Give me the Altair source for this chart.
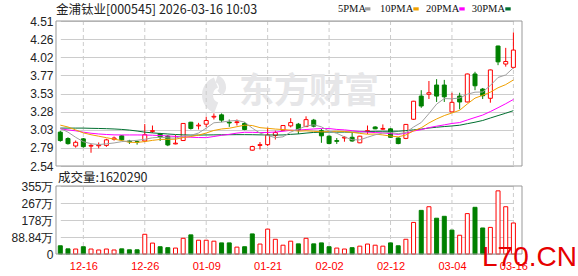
import json
import altair as alt
import pandas as pd

# ---------------- data ----------------
dates = ["12-11", "12-12", "12-15", "12-16", "12-17", "12-18", "12-19", "12-22", "12-23", "12-24",
         "12-25", "12-26", "12-29", "12-30", "12-31", "01-05", "01-06", "01-07", "01-08", "01-09",
         "01-12", "01-13", "01-14", "01-15", "01-16", "01-19", "01-20", "01-21", "01-22", "01-23",
         "01-26", "01-27", "01-28", "01-29", "01-30", "02-02", "02-03", "02-04", "02-05", "02-06",
         "02-09", "02-10", "02-11", "02-12", "02-13", "02-24", "02-25", "02-26", "02-27", "03-02",
         "03-03", "03-04", "03-05", "03-06", "03-09", "03-10", "03-11", "03-12", "03-13", "03-16"]

opens = [3.00, 2.913, 2.812, 2.909, 2.81, 2.815, 2.82, 2.904, 2.95, 2.88,
         2.87, 2.88, 3.01, 2.98, 2.945, 2.84, 2.886, 3.135, 3.085, 3.108,
         3.205, 3.235, 3.135, 3.13, 3.118, 2.755, 2.82, 2.83, 2.955, 3.026,
         3.085, 3.108, 3.075, 3.163, 3.02, 2.945, 2.885, 2.92, 2.93, 2.855,
         3.01, 3.07, 3.04, 3.045, 2.92, 2.915, 3.175, 3.49, 3.515, 3.64,
         3.64, 3.275, 3.49, 3.41, 3.79, 3.585, 3.46, 4.17, 3.925, 3.88]
highs = [3.02, 2.93, 2.886, 2.92, 2.84, 2.86, 2.91, 2.94, 2.96, 2.895,
         2.885, 3.11, 3.09, 2.99, 2.96, 2.96, 3.12, 3.14, 3.126, 3.21,
         3.254, 3.254, 3.172, 3.172, 3.135, 2.815, 2.865, 3.06, 3.02, 3.095,
         3.19, 3.125, 3.215, 3.18, 3.045, 2.955, 2.92, 2.945, 3.00, 2.95,
         3.09, 3.08, 3.105, 3.055, 2.93, 3.11, 3.425, 3.57, 3.695, 3.72,
         3.71, 3.535, 3.535, 3.795, 3.82, 3.60, 3.85, 4.175, 4.145, 4.355]
lows = [2.87, 2.83, 2.79, 2.79, 2.72, 2.78, 2.80, 2.885, 2.88, 2.84,
        2.83, 2.865, 2.99, 2.88, 2.81, 2.835, 2.88, 3.035, 3.036, 3.07,
        3.172, 3.135, 3.071, 3.09, 3.026, 2.75, 2.765, 2.81, 2.90, 3.02,
        3.065, 2.975, 3.07, 3.065, 2.855, 2.835, 2.84, 2.87, 2.87, 2.85,
        2.975, 3.04, 3.03, 2.925, 2.835, 2.905, 3.165, 3.33, 3.45, 3.41,
        3.41, 3.27, 3.31, 3.405, 3.57, 3.45, 3.40, 3.91, 3.89, 3.865]
closes = [2.886, 2.844, 2.862, 2.803, 2.82, 2.825, 2.895, 2.92, 2.895, 2.87,
          2.865, 2.965, 3.02, 2.935, 2.826, 2.85, 3.118, 3.05, 3.095, 3.158,
          3.215, 3.163, 3.125, 3.14, 3.036, 2.805, 2.83, 2.96, 2.995, 3.09,
          3.13, 3.03, 3.17, 3.081, 2.95, 2.845, 2.875, 2.93, 2.88, 2.945,
          3.02, 3.045, 3.05, 2.93, 2.845, 3.105, 3.42, 3.355, 3.535, 3.49,
          3.48, 3.405, 3.41, 3.79, 3.63, 3.495, 3.845, 3.955, 3.96, 4.115]

# volume in 万 (10k shares)
volumes = [43, 27, 26, 38, 26, 21, 26, 21, 27, 22,
           22, 103, 57, 38, 33, 31, 82, 100, 72, 72,
           67, 58, 58, 36, 38, 105, 52, 130, 77, 46,
           67, 53, 82, 53, 58, 38, 31, 26, 33, 41,
           52, 46, 41, 58, 43, 77, 165, 228, 247, 187,
           197, 125, 98, 211, 244, 136, 139, 330, 247, 162.029]
vol_dir = ["down", "down", "up", "down", "up", "up", "up", "up", "down", "down",
           "down", "up", "up", "down", "down", "up", "up", "down", "up", "up",
           "up", "down", "down", "up", "down", "down", "up", "up", "up", "up",
           "up", "down", "up", "down", "down", "down", "up", "up", "down", "up",
           "up", "up", "up", "down", "down", "up", "up", "down", "up", "down",
           "down", "down", "up", "up", "down", "down", "up", "up", "up", "up"]

ma5 = [3.05, 3.00, 2.93, 2.87, 2.843, 2.831, 2.841, 2.853, 2.871, 2.881,
       2.889, 2.903, 2.923, 2.931, 2.922, 2.919, 2.950, 2.956, 2.988, 3.054,
       3.127, 3.136, 3.151, 3.160, 3.136, 3.054, 2.987, 2.954, 2.925, 2.936,
       3.001, 3.041, 3.083, 3.100, 3.072, 3.015, 2.984, 2.936, 2.896, 2.895,
       2.930, 2.964, 2.988, 2.998, 2.978, 2.995, 3.070, 3.131, 3.252, 3.381,
       3.456, 3.453, 3.464, 3.515, 3.543, 3.546, 3.634, 3.743, 3.777, 3.874]
ma10 = [3.095, 3.07, 3.03, 2.99, 2.965, 2.945, 2.925, 2.905, 2.885, 2.862,
        2.860, 2.872, 2.888, 2.901, 2.902, 2.904, 2.927, 2.940, 2.960, 2.988,
        3.023, 3.043, 3.053, 3.074, 3.095, 3.090, 3.061, 3.052, 3.042, 3.035,
        3.027, 3.014, 3.018, 3.012, 3.004, 3.008, 3.012, 3.009, 2.998, 2.983,
        2.972, 2.974, 2.962, 2.947, 2.936, 2.962, 3.017, 3.059, 3.125, 3.179,
        3.225, 3.261, 3.297, 3.383, 3.462, 3.501, 3.543, 3.603, 3.646, 3.709]
ma20 = [3.045, 3.03, 3.018, 3.0, 2.985, 2.975, 2.968, 2.963, 2.962, 2.962,
        2.962, 2.961, 2.958, 2.954, 2.948, 2.942, 2.936, 2.931, 2.927, 2.925,
        2.941, 2.957, 2.970, 2.987, 2.998, 2.997, 2.994, 2.996, 3.001, 3.012,
        3.025, 3.028, 3.036, 3.043, 3.049, 3.049, 3.037, 3.031, 3.020, 3.009,
        3.000, 2.994, 2.990, 2.980, 2.970, 2.985, 3.015, 3.034, 3.061, 3.081,
        3.099, 3.118, 3.130, 3.165, 3.199, 3.232, 3.280, 3.332, 3.386, 3.444]
ma30 = [3.055, 3.055, 3.055, 3.055, 3.052, 3.05, 3.047, 3.043, 3.037, 3.028,
        3.015, 3.0, 2.99, 2.982, 2.975, 2.968, 2.963, 2.96, 2.96, 2.962,
        2.963, 2.964, 2.965, 2.966, 2.966, 2.965, 2.963, 2.962, 2.961, 2.962,
        2.970, 2.976, 2.987, 2.996, 3.000, 3.001, 3.000, 3.001, 3.000, 3.003,
        3.008, 3.011, 3.012, 3.012, 3.012, 3.021, 3.031, 3.041, 3.056, 3.067,
        3.076, 3.084, 3.094, 3.115, 3.135, 3.158, 3.192, 3.225, 3.257, 3.292]

tick_dates = ["12-16", "12-26", "01-09", "01-21", "02-02", "02-12", "03-04", "03-16"]
price_ticks = [2.54, 2.78625, 3.0325, 3.27875, 3.525, 3.77125, 4.0175, 4.26375, 4.51]
price_tick_labels = ["2.54", "2.79", "3.03", "3.28", "3.53", "3.77", "4.02", "4.26", "4.51"]
vol_ticks = [0, 88.84, 177.68, 266.52, 355.36]
vol_tick_labels = ["0", "88.84万", "178万", "267万", "355万"]

title_text = "金浦钛业[000545] 2026-03-16 10:03"
volume_text = "成交量:1620290"
ma_names = ["5PMA", "10PMA", "20PMA", "30PMA"]
ma_colors = ["#a0a0a0", "#f0a000", "#ff00ff", "#006f30"]
watermark_text = "东方财富"
site_text = "L70.CN"

# ---------------- tables ----------------
candles = pd.DataFrame({
    "date": dates, "open": opens, "high": highs, "low": lows, "close": closes,
    "vol": volumes, "vdir": vol_dir,
    "ma5": ma5, "ma10": ma10, "ma20": ma20, "ma30": ma30,
})
candles["dir"] = ["up" if c >= o else "down" for o, c in zip(opens, closes)]

price_grid = pd.DataFrame({"date": tick_dates, "top": price_ticks[-1], "bot": price_ticks[0]})
vol_grid = pd.DataFrame({"date": tick_dates, "top": vol_ticks[-1], "bot": vol_ticks[0]})
one = pd.DataFrame({"k": [0]})

W, H = 466, 233
RED, GREEN = "#ff0000", "#008000"
WM = "#e6e6e8"

xenc = alt.X("date:N", sort=None,
             scale=alt.Scale(type="point", domain=dates, range=[4.3, 457.4], padding=0),
             axis=alt.Axis(values=tick_dates, labelColor=RED, labelFont="Liberation Sans",
                           labelFontSize=11, labelPadding=6, labelAngle=0, ticks=False,
                           domain=False, grid=False, title=None, labelFlush=False))

py_scale = alt.Scale(domain=[price_ticks[0], price_ticks[-1]], range=[145, 0], nice=False, zero=False)
py_axis = alt.Axis(values=price_ticks, orient="left",
                   labelExpr=f"{json.dumps(price_tick_labels)}[indexof({json.dumps(price_ticks)}, datum.value)]",
                   grid=True, gridColor="#cccccc", gridWidth=1, domain=False, ticks=False,
                   labelPadding=3, labelFont="Liberation Sans", labelFontSize=12,
                   labelColor="#222222", title=None)
vy_scale = alt.Scale(domain=[vol_ticks[0], vol_ticks[-1]], range=[233, 165], nice=False, zero=False)
vy_axis = alt.Axis(values=vol_ticks, orient="left",
                   labelExpr=f"{json.dumps(vol_tick_labels)}[indexof({json.dumps(vol_ticks)}, datum.value)]",
                   grid=True, gridColor="#cccccc", gridWidth=1, domain=False, ticks=False,
                   labelPadding=3, labelFont="Liberation Sans", labelFontSize=12,
                   labelColor="#222222", title=None)

stroke_enc = alt.Stroke("dir:N", scale=alt.Scale(domain=["up", "down"], range=[RED, GREEN]), legend=None)
fill_enc = alt.Fill("dir:N", scale=alt.Scale(domain=["up", "down"], range=["#ffffff", GREEN]), legend=None)


def PY(f):
    return alt.Y(f, scale=py_scale, axis=py_axis)


def VY(f):
    return alt.Y(f, scale=vy_scale, axis=vy_axis, stack=None)


# watermark (logo swoosh + name)
logo_outer = alt.Chart(one).mark_arc(color=WM, radius=19, radius2=8, theta=3.5, theta2=5.9).encode(
    x=alt.value(165), y=alt.value(74))
logo_inner = alt.Chart(one).mark_arc(color=WM, radius=12, radius2=5, theta=0.3, theta2=2.4).encode(
    x=alt.value(158), y=alt.value(66))
watermark = alt.Chart(one).mark_text(font="Noto Sans CJK SC", fontSize=35, fontWeight="bold",
                                     color=WM, align="center", baseline="middle").encode(
    x=alt.value(253), y=alt.value(71), text=alt.value(watermark_text))

# price panel
p_vgrid = alt.Chart(price_grid).mark_rule(color="#cccccc", strokeDash=[4, 3], strokeWidth=1).encode(
    x=xenc, y=PY("top:Q"), y2="bot:Q")
p_frame = alt.Chart(price_grid.head(1)).mark_rect(fill="transparent", stroke="#999999", strokeWidth=1).encode(
    x=alt.value(0), x2=alt.value(W), y=PY("top:Q"), y2="bot:Q")
wicks = alt.Chart(candles).mark_rule(strokeWidth=1).encode(
    x=xenc, y=PY("low:Q"), y2="high:Q", stroke=stroke_enc)
bodies = alt.Chart(candles).mark_bar(size=4, strokeWidth=1).encode(
    x=xenc, y=PY("open:Q"), y2="close:Q", fill=fill_enc, stroke=stroke_enc)
ma_layers = [alt.Chart(candles).mark_line(color=c, strokeWidth=1).encode(x=xenc, y=PY(f"{f}:Q"))
             for f, c in zip(["ma30", "ma20", "ma10", "ma5"], ma_colors[::-1])]
price_group = alt.layer(p_vgrid, wicks, bodies, *ma_layers, p_frame)

# volume panel
v_vgrid = alt.Chart(vol_grid).mark_rule(color="#cccccc", strokeDash=[4, 3], strokeWidth=1).encode(
    x=xenc, y=VY("top:Q"), y2="bot:Q")
v_frame = alt.Chart(vol_grid.head(1)).mark_rect(fill="transparent", stroke="#999999", strokeWidth=1).encode(
    x=alt.value(0), x2=alt.value(W), y=VY("top:Q"), y2="bot:Q")
vbars = alt.Chart(candles).mark_bar(size=4, strokeWidth=1).encode(
    x=xenc, y=VY("vol:Q"),
    fill=alt.Fill("vdir:N", scale=alt.Scale(domain=["up", "down"], range=["#ffffff", GREEN]), legend=None),
    stroke=alt.Stroke("vdir:N", scale=alt.Scale(domain=["up", "down"], range=[RED, GREEN]), legend=None))
vol_group = alt.layer(v_vgrid, vbars, v_frame)

# texts
title = alt.Chart(one).mark_text(font="Noto Sans CJK SC", fontSize=12.5, color="#222222",
                                 align="left", baseline="middle").encode(
    x=alt.value(0), y=alt.value(-11.5), text=alt.value(title_text))
vol_label = alt.Chart(one).mark_text(font="Noto Sans CJK SC", fontSize=12.5, color="#222222",
                                     align="left", baseline="middle").encode(
    x=alt.value(2), y=alt.value(156.5), text=alt.value(volume_text))
legend_x = [282, 324, 370, 415.7]
legend_sq = [309, 357.3, 403.3, 449.3]
legend_layers = []
for name, col, tx, sx in zip(ma_names, ma_colors, legend_x, legend_sq):
    legend_layers.append(alt.Chart(one).mark_text(font="Liberation Serif", fontSize=10.5, color="#111111",
                                                  align="left", baseline="middle").encode(
        x=alt.value(tx), y=alt.value(-12), text=alt.value(name)))
    legend_layers.append(alt.Chart(one).mark_rect(color=col).encode(
        x=alt.value(sx), x2=alt.value(sx + 5.4), y=alt.value(-13.7), y2=alt.value(-10.5)))
site = alt.Chart(one).mark_text(font="Liberation Sans", fontSize=28, color="#e60000",
                                align="left", baseline="alphabetic").encode(
    x=alt.value(426), y=alt.value(245), text=alt.value(site_text))

chart = alt.layer(logo_outer, logo_inner, watermark, price_group, vol_group, title, vol_label,
                  *legend_layers, site).resolve_scale(
    y="independent"
).properties(
    width=W, height=H,
    autosize=alt.AutoSizeParams(type="none"),
    padding={"left": 56, "top": 21, "right": 56, "bottom": 22},
).configure_view(strokeWidth=0)

chart.save("out.html", embed_options={"renderer": "svg", "actions": False})
